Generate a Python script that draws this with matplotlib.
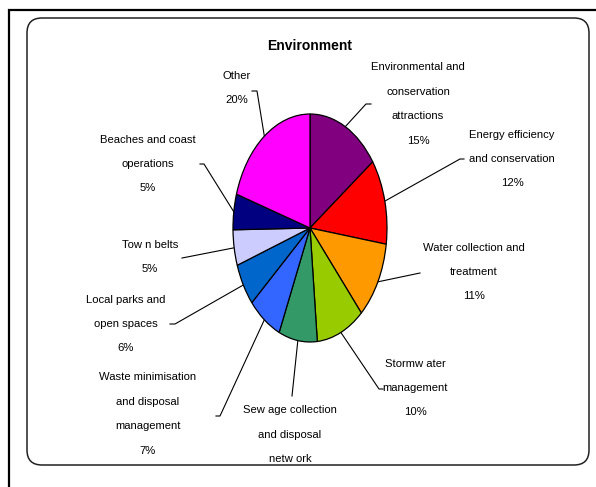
import numpy as np
import matplotlib
matplotlib.use("Agg")
import matplotlib.pyplot as plt
from matplotlib import font_manager
from matplotlib.patches import FancyBboxPatch
from matplotlib.transforms import Bbox, TransformedBbox

# ---------------- data ----------------
title = "Environment"
categories = [
    "Environmental and\nconservation\nattractions",
    "Energy efficiency\nand conservation",
    "Water collection and\ntreatment",
    "Stormw ater\nmanagement",
    "Sew age collection\nand disposal\nnetw ork",
    "Waste minimisation\nand disposal\nmanagement",
    "Local parks and\nopen spaces",
    "Tow n belts",
    "Beaches and coast\noperations",
    "Other",
]
percents = [15, 12, 11, 10, 8, 7, 6, 5, 5, 20]
colors = ["#800080", "#FF0000", "#FF9900", "#99CC00", "#339966",
          "#3366FF", "#0066CC", "#CCCCFF", "#000080", "#FF00FF"]

# ---------------- layout (pixels, origin top-left) ----------------
W, H = 596, 487
label_xy = [(418, 104), (512, 159), (474, 272), (415, 388), (290, 447),
            (148, 414), (126, 324), (150, 257), (148, 164), (237, 88)]
leader_elbow = [(366, 104), (460, 159), (420, 273), (379, 389), (292, 396),
                (220, 416), (175, 324), (182, 258), (204, 164), (257, 91)]
leader_end = [(371, 104), (464, 159), (420, 273), (383, 389), (292, 396),
              (216, 416), (170, 324), (182, 258), (200, 164), (252, 91)]
cx, cy, rx, ry = 310, 228, 77, 114

# ---------------- fonts ----------------
avail = {f.name for f in font_manager.fontManager.ttflist}
if "Liberation Sans Narrow" in avail:
    fam, fs, tfs, ls = "Liberation Sans Narrow", 9.7, 12.2, 2.2
else:
    fam, fs, tfs, ls = "Liberation Sans", 8.1, 10.0, 2.8

fig = plt.figure(figsize=(W / 100, H / 100), dpi=100)
ov = fig.add_axes([0, 0, 1, 1])
ov.set_xlim(0, W)
ov.set_ylim(H, 0)
ov.axis("off")

# outer frame (only left & top visible)
ov.plot([9, 9, W + 5], [H + 5, 10, 10], color="black", lw=1.6,
        solid_joinstyle="miter", clip_on=False)
# rounded chart-area border
ov.add_patch(FancyBboxPatch((27, 18), 589 - 27, 465 - 18,
                            boxstyle="round,pad=0,rounding_size=15",
                            fill=False, edgecolor="#222222", lw=1.1))

# pie (elliptical) axes
m = 1.03
pax = fig.add_axes([(cx - rx * m) / W, (H - cy - ry * m) / H,
                    2 * rx * m / W, 2 * ry * m / H])
pax.pie(percents, colors=colors, startangle=90, counterclock=False,
        radius=1, wedgeprops=dict(edgecolor="black", linewidth=0.9))
pax.set_aspect("auto")
pax.set_xlim(-m, m)
pax.set_ylim(-m, m)
pax.axis("off")

# leader lines and labels
total = float(sum(percents))
cum = np.cumsum([0] + percents)
clipbox = TransformedBbox(Bbox([[0, 0], [W, 478]]), ov.transData)
for i, (cat, p) in enumerate(zip(categories, percents)):
    mid = (cum[i] + p / 2.0) / total * 2 * np.pi
    sx = cx + rx * np.sin(mid)
    sy = cy - ry * np.cos(mid)
    ex, ey = leader_elbow[i]
    tx, ty = leader_end[i]
    ov.plot([sx, ex, tx], [sy, ey, ty], color="black", lw=0.8)
    lx, ly = label_xy[i]
    t = ov.text(lx, ly, f"{cat}\n{p}%", ha="center", va="center",
                multialignment="center", fontsize=fs, family=fam,
                linespacing=ls, color="black")
    t.set_clip_box(clipbox)
    t.set_clip_on(True)

ov.text(310, 46, title, ha="center", va="center", fontsize=tfs,
        family=fam, fontweight="bold")

fig.savefig("out.png", dpi=100)
